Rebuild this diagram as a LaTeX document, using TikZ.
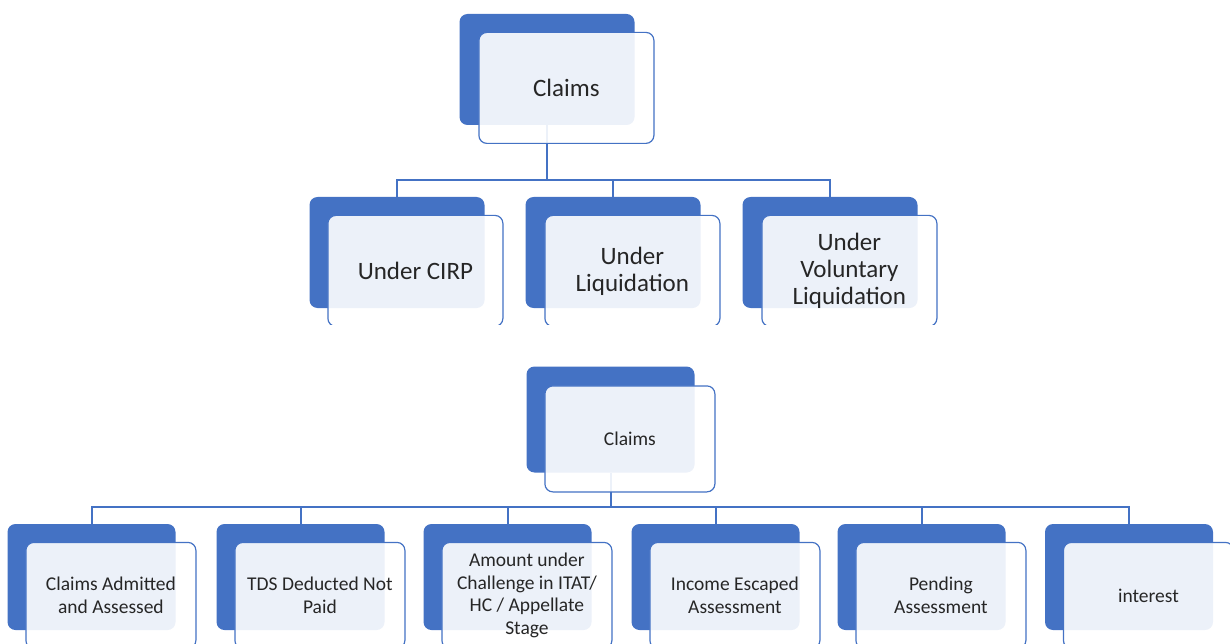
\documentclass[tikz,border=0pt]{standalone}
\usepackage{fontspec}
\setmainfont{Carlito}
\usepackage{tikz}
\usetikzlibrary{positioning}
\definecolor{smartblue}{HTML}{4472C4}
\tikzset{
  backbox/.style={rectangle, rounded corners=8pt, fill=smartblue, inner sep=0pt},
  frontbox/.style={rectangle, rounded corners=8pt, draw=smartblue, line width=1.2pt, fill=white, fill opacity=0.9, text opacity=1, text=black!85, align=center, inner sep=0pt, anchor=north west},
  link/.style={draw=smartblue, line width=2pt},
}

\begin{document}
\begin{tikzpicture}[x=1pt, y=-1pt]
  \tikzset{
    topback/.style={backbox, minimum width=175pt, minimum height=111pt},
    topfront/.style={frontbox, minimum width=175pt, minimum height=111pt, font=\fontsize{25}{27}\selectfont},
    lowback/.style={backbox, minimum width=168pt, minimum height=106pt},
    lowfront/.style={frontbox, minimum width=170pt, minimum height=106pt, font=\fontsize{19.5}{22.7}\selectfont},
  }
  \useasboundingbox (0,0) rectangle (1230,644);
  \clip (0,0) rectangle (1230,644);

  % First chart
  \begin{scope}
    \clip (0,0) rectangle (1230,324.5);
    \node[topback] (claimsA-back) at (547,69.5) {};
    \node[topback] (cirp-back) at (397,252.5) {};
    \node[topback] (liq-back) at (613,252.5) {};
    \node[topback] (vol-back) at (830,252.5) {};

    \coordinate (busA) at (547,180);
    \draw[link] (claimsA-back.south) -- (busA);
    \draw[link] (busA) -| (cirp-back.north);
    \draw[link] (busA) -| (liq-back.north);
    \draw[link] (busA) -| (vol-back.north);

    \node[topfront] (claimsA) at ([shift={(19,18)}]claimsA-back.north west) {Claims};
    \node[topfront] (cirp) at ([shift={(18,18)}]cirp-back.north west) {Under CIRP};
    \node[topfront] (liq) at ([shift={(19,18)}]liq-back.north west) {Under\\Liquidation};
    \node[topfront] (vol) at ([shift={(19,18)}]vol-back.north west) {Under\\Voluntary\\Liquidation};
  \end{scope}

  % Second chart
  \node[lowback] (claimsB-back) at (610.5,419.5) {};
  \node[lowback] (admitted-back) at (91.5,577) {};
  \node[lowback] (tds-back) at (300.5,577) {};
  \node[lowback] (challenge-back) at (507.5,577) {};
  \node[lowback] (escaped-back) at (715.5,577) {};
  \node[lowback] (pending-back) at (921.5,577) {};
  \node[lowback] (interest-back) at (1129,577) {};

  \coordinate (busB) at (610.5,507);
  \draw[link] (claimsB-back.south) -- (busB);
  \draw[link] (busB) -| (admitted-back.north);
  \draw[link] (busB) -| (tds-back.north);
  \draw[link] (busB) -| (challenge-back.north);
  \draw[link] (busB) -| (escaped-back.north);
  \draw[link] (busB) -| (pending-back.north);
  \draw[link] (busB) -| (interest-back.north);

  \node[lowfront] (claimsB) at ([shift={(18,19)}]claimsB-back.north west) {Claims};
  \node[lowfront] (admitted) at ([shift={(18,18)}]admitted-back.north west) {Claims Admitted\\and Assessed};
  \node[lowfront] (tds) at ([shift={(18,18)}]tds-back.north west) {TDS Deducted Not\\Paid};
  \node[lowfront] (challenge) at ([shift={(18,18)}]challenge-back.north west) {Amount under\\Challenge in ITAT/\\HC / Appellate\\Stage};
  \node[lowfront] (escaped) at ([shift={(18,18)}]escaped-back.north west) {Income Escaped\\Assessment};
  \node[lowfront] (pending) at ([shift={(18,18)}]pending-back.north west) {Pending\\Assessment};
  \node[lowfront] (interest) at ([shift={(18,18)}]interest-back.north west) {interest};

\end{tikzpicture}
\end{document}
